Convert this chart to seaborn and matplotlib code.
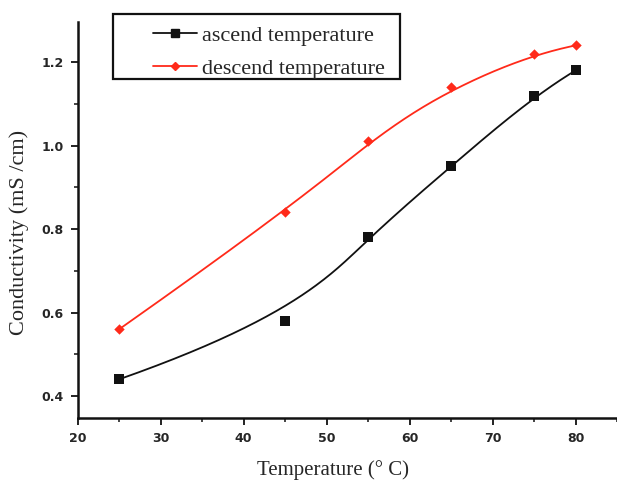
import matplotlib
matplotlib.use("Agg")
import matplotlib.pyplot as plt
import seaborn as sns
import numpy as np
import pandas as pd
from matplotlib.ticker import MultipleLocator
from matplotlib.lines import Line2D
from matplotlib.patches import Rectangle

temps = [25, 45, 55, 65, 75, 80]
ascend = [0.44, 0.58, 0.78, 0.95, 1.12, 1.18]
descend = [0.56, 0.84, 1.01, 1.14, 1.22, 1.24]
labels = ["ascend temperature", "descend temperature"]
xticks = [20, 30, 40, 50, 60, 70, 80]
yticks = [0.4, 0.6, 0.8, 1.0, 1.2]


def bspline_curve(xs, ys, n=300, k=3):
    """Clamped cubic B-spline using the data points as control points
    (the 'B-spline' connection used by the original plotting software)."""
    P = np.column_stack([xs, ys]).astype(float)
    m = len(P)
    knots = np.concatenate([[0.0] * k, np.arange(m - k + 1, dtype=float), [float(m - k)] * k])
    u = np.linspace(0, m - k, n)
    u[-1] -= 1e-9

    def N(i, p, uu):
        if p == 0:
            return ((knots[i] <= uu) & (uu < knots[i + 1])).astype(float)
        out = np.zeros_like(uu)
        d1 = knots[i + p] - knots[i]
        d2 = knots[i + p + 1] - knots[i + 1]
        if d1 > 0:
            out += (uu - knots[i]) / d1 * N(i, p - 1, uu)
        if d2 > 0:
            out += (knots[i + p + 1] - uu) / d2 * N(i + 1, p - 1, uu)
        return out

    B = np.column_stack([N(i, k, u) for i in range(m)])
    C = B @ P
    return C[:, 0], C[:, 1]


sns.set_theme(style="ticks")
plt.rcParams['font.family'] = ['Liberation Serif', 'DejaVu Serif']

df = pd.DataFrame({"T": temps, "asc": ascend, "desc": descend})
ax_x, ax_y = bspline_curve(temps, ascend)
de_x, de_y = bspline_curve(temps, descend)
curves = pd.DataFrame({"ax": ax_x, "ay": ax_y, "dx": de_x, "dy": de_y})

fig = plt.figure(figsize=(6.17, 4.8), dpi=100)
ax = fig.add_axes([0.126, 0.129, 0.874, 0.825])

black = "#111111"
red = "#ff2a1a"

sns.lineplot(data=curves, x="ax", y="ay", sort=False, color=black, lw=1.3, ax=ax)
sns.lineplot(data=curves, x="dx", y="dy", sort=False, color=red, lw=1.3, ax=ax)
sns.scatterplot(data=df, x="T", y="asc", marker="s", s=50, color=black,
                edgecolor=black, linewidth=0, ax=ax, zorder=3)
sns.scatterplot(data=df, x="T", y="desc", marker="D", s=28, color=red,
                edgecolor=red, linewidth=0, ax=ax, zorder=3)

ax.set_xlim(20, 85)
ax.set_ylim(0.347, 1.296)
ax.set_xticks(xticks)
ax.set_yticks(yticks)
ax.set_xticklabels([str(t) for t in xticks], fontsize=9, fontweight="bold",
                   family=["DejaVu Sans"])
ax.set_yticklabels([f"{t:.1f}" for t in yticks], fontsize=9, fontweight="bold",
                   family=["DejaVu Sans"])
ax.xaxis.set_minor_locator(MultipleLocator(5))
ax.yaxis.set_minor_locator(MultipleLocator(0.1))
ax.tick_params(which="major", direction="out", length=5, width=1.3, color=black, pad=5)
ax.tick_params(which="minor", direction="out", length=3, width=1.1, color=black)
for s in ["top", "right"]:
    ax.spines[s].set_visible(False)
for s in ["left", "bottom"]:
    ax.spines[s].set_linewidth(1.8)
    ax.spines[s].set_color(black)

ax.set_xlabel("Temperature (° C)", fontsize=15)
ax.set_ylabel("Conductivity (mS /cm)", fontsize=16)
ax.xaxis.set_label_coords(0.473, -0.105)
ax.yaxis.set_label_coords(-0.09, 0.47)

# legend box
fig.patches.append(Rectangle((113 / 617, 1 - 79 / 480), 287 / 617, 65 / 480,
                             transform=fig.transFigure, fill=False,
                             edgecolor=black, linewidth=1.6, zorder=5))
handles = [Line2D([], [], color=black, lw=1.3, marker="s", markersize=6),
           Line2D([], [], color=red, lw=1.3, marker="D", markersize=4.5)]
leg = fig.legend(handles, labels, loc="upper left",
                 bbox_to_anchor=(153 / 617, 1 - 25 / 480),
                 fontsize=16, frameon=False, handlelength=2.0,
                 borderpad=0, borderaxespad=0, labelspacing=0.58, handletextpad=0.2)

fig.savefig("out.png", dpi=100)
